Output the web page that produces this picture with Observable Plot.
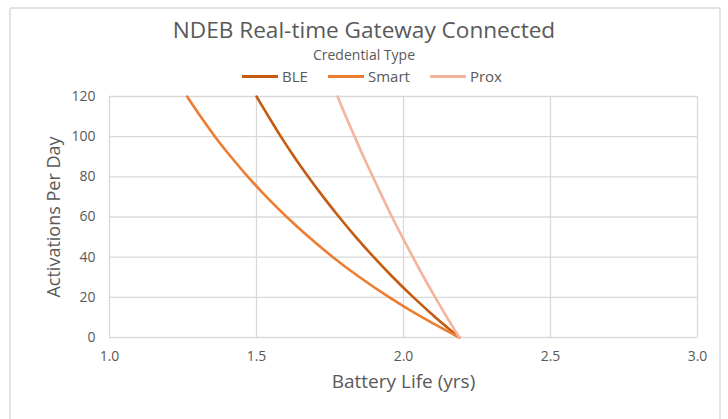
<!DOCTYPE html>
<html>
<head>
<meta charset="utf-8">
<script src="https://cdn.jsdelivr.net/npm/d3@7"></script>
<script src="https://cdn.jsdelivr.net/npm/@observablehq/plot@0.6"></script>
<style>
  html, body { margin: 0; padding: 0; background: #fff; }
  #wrap { position: relative; width: 728px; height: 419px; overflow: hidden; font-family: "Open Sans", sans-serif; color: #595959; }
  #border { position: absolute; left: 9px; top: 7px; width: 712px; height: 430px; border: 2px solid #e3e3e3; border-radius: 3px; box-sizing: border-box; }
  #title { position: absolute; left: 0; width: 728px; top: 19px; text-align: center; font-size: 22.6px; line-height: 22px; }
  #subtitle { position: absolute; left: 0; width: 728px; top: 46px; text-align: center; font-size: 14px; line-height: 18px; }
  #legend { position: absolute; left: 8px; width: 728px; top: 66px; display: flex; justify-content: center; gap: 20px; font-size: 15px; line-height: 20px; }
  .item { display: flex; align-items: center; gap: 4px; }
  .sw { width: 36px; height: 3px; display: inline-block; }
  #chart { position: absolute; left: 0; top: 0; }
</style>
</head>
<body>
<div id="wrap">
  <div id="border"></div>
  <div id="chart"></div>
  <div id="title">NDEB Real-time Gateway Connected</div>
  <div id="subtitle">Credential Type</div>
  <div id="legend"></div>
</div>
<script>
// Activations per day (y) and battery life in years (x)
const activations = [0, 10, 20, 30, 40, 50, 60, 70, 80, 90, 100, 110, 120];
const bleLife   = [2.19, 2.109, 2.034, 1.964, 1.899, 1.838, 1.781, 1.727, 1.676, 1.628, 1.583, 1.541, 1.500];
const smartLife = [2.19, 2.064, 1.952, 1.851, 1.760, 1.678, 1.603, 1.534, 1.471, 1.413, 1.359, 1.310, 1.264];
const proxLife  = [2.19, 2.148, 2.108, 2.069, 2.032, 1.996, 1.961, 1.928, 1.896, 1.864, 1.834, 1.804, 1.776];
const seriesNames = ["BLE", "Smart", "Prox"];
const seriesColors = ["#c55a11", "#ed7d31", "#f5b39c"];
const xTicks = [1.0, 1.5, 2.0, 2.5, 3.0];
const yTicks = [0, 20, 40, 60, 80, 100, 120];

const lifeBySeries = {BLE: bleLife, Smart: smartLife, Prox: proxLife};
const data = seriesNames.flatMap(name =>
  activations.map((a, i) => ({series: name, activations: a, life: lifeBySeries[name][i]}))
);

const plot = Plot.plot({
  width: 728,
  height: 419,
  marginTop: 96,
  marginBottom: 82,
  marginLeft: 109,
  marginRight: 31,
  style: {fontFamily: "Open Sans, sans-serif", color: "#595959", background: "transparent"},
  x: {domain: [1, 3]},
  y: {domain: [0, 120]},
  color: {domain: seriesNames, range: seriesColors},
  marks: [
    Plot.gridX(xTicks, {stroke: "#d9d9d9", strokeOpacity: 1, strokeWidth: 1.3}),
    Plot.gridY(yTicks, {stroke: "#d9d9d9", strokeOpacity: 1, strokeWidth: 1.3}),
    Plot.axisX(xTicks, {tickSize: 0, tickPadding: 14, fontSize: 14, tickFormat: d3.format(".1f"),
      label: "Battery Life (yrs)", labelAnchor: "center", labelArrow: "none", labelOffset: 50}),
    Plot.axisY(yTicks, {tickSize: 0, tickPadding: 14, fontSize: 14,
      label: "Activations Per Day", labelAnchor: "center", labelArrow: "none", labelOffset: 62}),
    Plot.line(data, {x: "life", y: "activations", z: "series", stroke: "series",
      strokeWidth: 2.6, curve: "catmull-rom"})
  ]
});
document.getElementById("chart").appendChild(plot);

// style axis labels
plot.querySelectorAll("g[aria-label='x-axis label'] text").forEach(t => t.setAttribute("font-size", 19));
plot.querySelectorAll("g[aria-label='y-axis label'] text").forEach(t => t.setAttribute("font-size", 18));

const legend = document.getElementById("legend");
seriesNames.forEach((name, i) => {
  const item = document.createElement("div");
  item.className = "item";
  const sw = document.createElement("span");
  sw.className = "sw";
  sw.style.background = seriesColors[i];
  const lbl = document.createElement("span");
  lbl.textContent = name;
  item.appendChild(sw);
  item.appendChild(lbl);
  legend.appendChild(item);
});
</script>
</body>
</html>
